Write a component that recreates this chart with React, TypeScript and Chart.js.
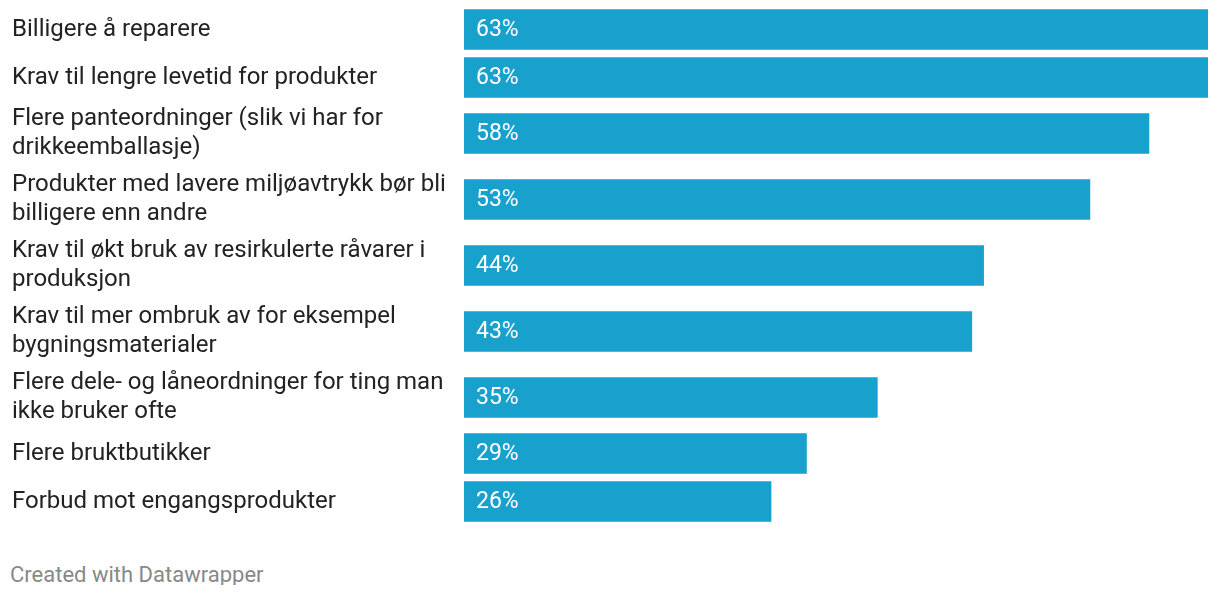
import React, { useEffect, useRef } from "react";
import { Chart, registerables } from "chart.js";

Chart.register(...registerables);

const categories: (string | string[])[] = [
  "Billigere å reparere",
  "Krav til lengre levetid for produkter",
  ["Flere panteordninger (slik vi har for", "drikkeemballasje)"],
  ["Produkter med lavere miljøavtrykk bør bli", "billigere enn andre"],
  ["Krav til økt bruk av resirkulerte råvarer i", "produksjon"],
  ["Krav til mer ombruk av for eksempel", "bygningsmaterialer"],
  ["Flere dele- og låneordninger for ting man", "ikke bruker ofte"],
  "Flere bruktbutikker",
  "Forbud mot engangsprodukter",
];

const values: number[] = [63, 63, 58, 53, 44, 43, 35, 29, 26];

const BAR_COLOR = "#18a1cd";
const FONT = "Roboto, 'Noto Sans', sans-serif";

function lineCount(c: string | string[]) {
  return Array.isArray(c) ? c.length : 1;
}

// row centres derived from the number of label lines in each row
function rowCentres(): number[] {
  const out: number[] = [];
  let pos = 0;
  categories.forEach((c, i) => {
    if (i > 0) {
      const a = lineCount(categories[i - 1]);
      const b = lineCount(c);
      pos += a === 1 && b === 1 ? 48 : a === 2 && b === 2 ? 66 : 56;
    }
    out.push(pos);
  });
  return out;
}

const valueLabels = {
  id: "valueLabels",
  afterDatasetsDraw(chart: any) {
    const ctx = chart.ctx;
    const meta = chart.getDatasetMeta(0);
    ctx.save();
    ctx.font = `23px ${FONT}`;
    ctx.fillStyle = "#ffffff";
    ctx.textAlign = "left";
    ctx.textBaseline = "middle";
    meta.data.forEach((bar: any, i: number) => {
      ctx.fillText(`${values[i]}%`, bar.base + 12, bar.y + 1);
    });
    ctx.restore();
  },
};

export default function App() {
  const ref = useRef<HTMLCanvasElement | null>(null);

  useEffect(() => {
    if (!ref.current) return;
    const centres = rowCentres();
    const chart = new Chart(ref.current, {
      type: "bar",
      data: {
        datasets: [
          {
            data: values.map((v, i) => ({ x: v, y: centres[i] })),
            backgroundColor: BAR_COLOR,
            barThickness: 40,
            borderWidth: 0,
          },
        ],
      },
      options: {
        indexAxis: "y",
        animation: false,
        responsive: true,
        maintainAspectRatio: false,
        layout: { padding: { left: 4, right: 4, top: 0, bottom: 0 } },
        plugins: {
          legend: { display: false },
          tooltip: { enabled: false },
        },
        scales: {
          x: {
            type: "linear",
            min: 0,
            max: 63,
            display: false,
          },
          y: {
            type: "linear",
            reverse: true,
            offset: false,
            min: centres[0] - 21.5,
            max: centres[centres.length - 1] + 21.5,
            grid: { display: false },
            border: { display: false },
            afterBuildTicks: (scale: any) => {
              scale.ticks = centres.map((v) => ({ value: v }));
            },
            afterFit: (scale: any) => {
              scale.width = 452;
              scale.paddingTop = 0;
              scale.paddingBottom = 0;
            },
            ticks: {
              autoSkip: false,
              crossAlign: "far",
              padding: 0,
              color: "#222222",
              font: { family: FONT, size: 24, lineHeight: 1.17 },
              callback: (_v: any, i: number) => categories[i] as any,
            },
          },
        },
      },
      plugins: [valueLabels],
    });
    return () => chart.destroy();
  }, []);

  return (
    <div>
      <div style={{ position: "relative", width: "100%", height: 515 }}>
        <canvas ref={ref} />
      </div>
      <div
        style={{
          marginTop: 42,
          paddingLeft: 2,
          fontFamily: FONT,
          fontSize: 22,
          lineHeight: "20px",
          color: "#888888",
        }}
      >
        Created with Datawrapper
      </div>
    </div>
  );
}
